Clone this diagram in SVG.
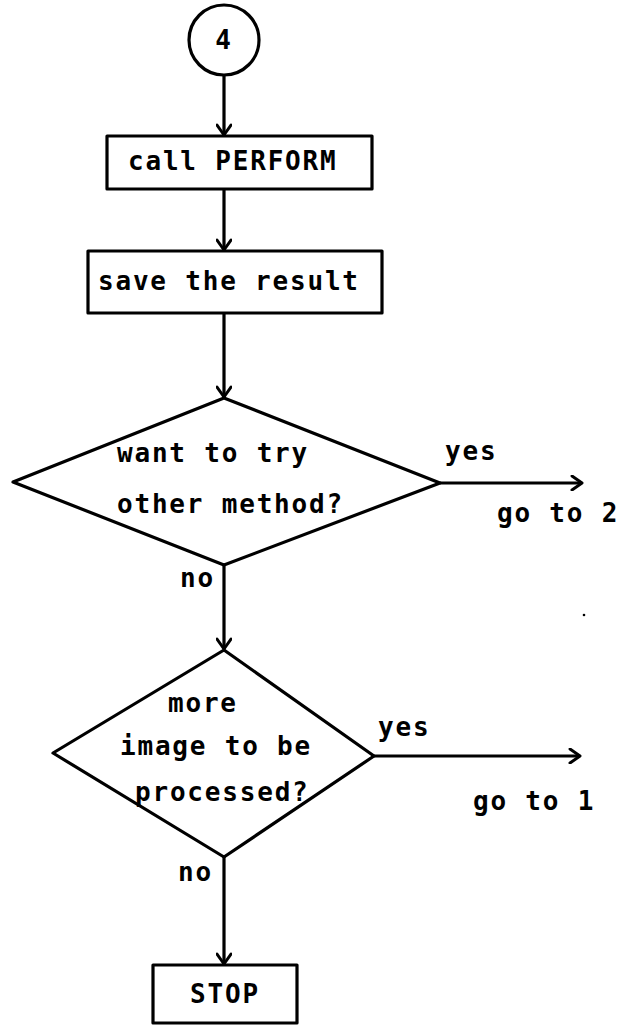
<svg xmlns="http://www.w3.org/2000/svg" width="623" height="1027" viewBox="0 0 623 1027">
  <style>
    .shape { fill: #fff; stroke: #000; stroke-width: 3.2; stroke-linejoin: round; }
    .edge { fill: none; stroke: #000; stroke-width: 3.2; }
    .lbl { font-family: "DejaVu Sans Mono", "Liberation Mono", monospace; font-weight: bold; font-size: 26px; letter-spacing: 1.8px; fill: #000; }
  </style>
  <defs>
    <marker id="head" markerUnits="userSpaceOnUse" markerWidth="16" markerHeight="16" viewBox="0 0 16 16" refX="14" refY="8" orient="auto">
      <path d="M4,1 L14,8 L4,15" fill="none" stroke="#000" stroke-width="3" stroke-linecap="round" stroke-linejoin="round"/>
    </marker>
  </defs>
  <rect width="623" height="1027" fill="#fff"/>

  <!-- connectors -->
  <g id="connectors">
    <line class="edge" x1="224" y1="75" x2="224" y2="135" marker-end="url(#head)"/>
    <line class="edge" x1="224" y1="189" x2="224" y2="250" marker-end="url(#head)"/>
    <line class="edge" x1="224" y1="313" x2="224" y2="397" marker-end="url(#head)"/>
    <line class="edge" x1="440" y1="483" x2="582" y2="483" marker-end="url(#head)"/>
    <line class="edge" x1="224" y1="565" x2="224" y2="649" marker-end="url(#head)"/>
    <line class="edge" x1="374" y1="756" x2="580" y2="756" marker-end="url(#head)"/>
    <line class="edge" x1="224" y1="857" x2="224" y2="964" marker-end="url(#head)"/>
    <text class="lbl" x="445" y="460">yes</text>
    <text class="lbl" x="497" y="522">go to 2</text>
    <text class="lbl" x="180" y="587">no</text>
    <text class="lbl" x="378" y="736">yes</text>
    <text class="lbl" x="473" y="810">go to 1</text>
    <text class="lbl" x="178" y="881">no</text>
  </g>

  <!-- start connector -->
  <g id="node-4">
    <circle class="shape" cx="224" cy="40" r="35"/>
    <text class="lbl" x="224" y="49" text-anchor="middle" letter-spacing="0">4</text>
  </g>

  <g id="node-perform">
    <rect class="shape" x="107" y="136" width="265" height="53"/>
    <text class="lbl" x="128" y="170">call PERFORM</text>
  </g>

  <g id="node-save">
    <rect class="shape" x="88" y="251" width="294" height="62"/>
    <text class="lbl" x="98" y="290">save the result</text>
  </g>

  <g id="node-try-other">
    <polygon class="shape" points="224,398 440,483 224,565 13,482"/>
    <text class="lbl" x="117" y="462">want to try</text>
    <text class="lbl" x="117" y="513">other method?</text>
  </g>

  <g id="node-more-images">
    <polygon class="shape" points="224,650 374,756 224,857 53,753"/>
    <text class="lbl" x="168" y="712">more</text>
    <text class="lbl" x="120" y="755">image to be</text>
    <text class="lbl" x="135" y="801">processed?</text>
  </g>

  <g id="node-stop">
    <rect class="shape" x="153" y="965" width="144" height="58"/>
    <text class="lbl" x="225" y="1003" text-anchor="middle" letter-spacing="0">STOP</text>
  </g>

  <!-- stray speck -->
  <circle cx="584" cy="615" r="1.3" fill="#000"/>
</svg>
